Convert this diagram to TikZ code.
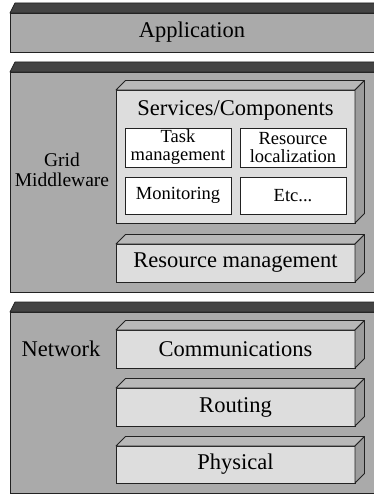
\documentclass[tikz,border=0pt]{standalone}
\usepackage{fontspec}
\setmainfont{Liberation Serif}
\usetikzlibrary{calc}
\definecolor{outerfront}{HTML}{AAAAAA}
\definecolor{outertop}{HTML}{444444}
\definecolor{innerfront}{HTML}{DDDDDD}
\definecolor{innertop}{HTML}{B8B8B8}
\definecolor{innerside}{HTML}{9C9C9C}
\definecolor{edgecol}{HTML}{222222}
\newcommand\bigfont{\rmfamily\fontsize{22.5}{24}\selectfont}
\newcommand\smallfont{\rmfamily\fontsize{18.5}{18}\selectfont}
\tikzset{
  every node/.style={inner sep=0pt, outer sep=0pt},
  layerbox/.style={draw=edgecol, fill=outerfront, line width=0.8pt, anchor=north west,
    minimum width=380pt, font=\bigfont},
  slabbox/.style={draw=edgecol, fill=innerfront, line width=0.8pt, anchor=north west,
    minimum width=239pt, font=\bigfont},
  cellbox/.style={draw=edgecol, fill=white, line width=0.8pt, anchor=north west,
    minimum width=106pt, font=\smallfont, align=center},
  layertop/.style={fill=outertop, draw=edgecol, line width=0.8pt, line join=round},
  slabtop/.style={fill=innertop, draw=edgecol, line width=0.8pt, line join=round},
  slabside/.style={fill=innerside, draw=edgecol, line width=0.8pt, line join=round},
  sidelabel/.style={align=center, font=\smallfont},
}
% top face of an outer layer
\newcommand\layerroof[1]{%
  \draw[layertop] (#1.north west) -- ++(5,-10) -- ($(#1.north east)+(0,-10)$)
    -- (#1.north east) -- cycle;}
% top and side faces of an inner slab
\newcommand\slabroof[1]{%
  \draw[slabtop] (#1.north west) -- ++(9.5,-9.5) -- ($(#1.north east)+(9.5,-9.5)$)
    -- (#1.north east) -- cycle;
  \draw[slabside] (#1.north east) -- ++(9.5,-9.5) -- ($(#1.south east)+(9.5,-9.5)$)
    -- (#1.south east) -- cycle;}
\begin{document}
\begin{tikzpicture}[x=1pt,y=-1pt]
\useasboundingbox (0,0) rectangle (374,495);
\clip (0,0) rectangle (374,495);
% outer layers
\node[layerbox, minimum height=39pt] (app) at (10,13) {};
\node[font=\bigfont] (apptext) at (192,32.5) {Application};
\layerroof{app}
\node[layerbox, minimum height=220pt] (grid) at (10,72) {};
\layerroof{grid}
\node[layerbox, minimum height=181pt] (net) at (10,312) {};
\layerroof{net}
% side labels
\node[sidelabel, font=\rmfamily\fontsize{19.5}{20}\selectfont] (gridlabel) at (62,170) {Grid\\Middleware};
\node[sidelabel, font=\bigfont] (netlabel) at (61,349) {Network};
% services
\node[slabbox, minimum height=133pt] (serv) at (116,90) {};
\slabroof{serv}
\node[font=\bigfont] (servtext) at (235.5,110) {Services/Components};
\node[cellbox, minimum height=39pt] (task) at (125,128) {Task\\management};
\node[cellbox, minimum height=39pt] (resloc) at (240,128) {Resource\\localization};
\node[cellbox, minimum height=37pt] (mon) at (125,177) {Monitoring};
\node[cellbox, minimum height=37pt] (etc) at (240,177) {Etc...};
% resource management
\node[slabbox, minimum height=38pt] (resm) at (116,244) {Resource management};
\slabroof{resm}
% network layers
\node[slabbox, minimum height=38pt] (comm) at (116,330) {Communications};
\slabroof{comm}
\node[slabbox, minimum height=38pt] (rout) at (116,388) {Routing};
\slabroof{rout}
\node[slabbox, minimum height=37pt] (phys) at (116,446) {Physical};
\slabroof{phys}
\end{tikzpicture}
\end{document}
